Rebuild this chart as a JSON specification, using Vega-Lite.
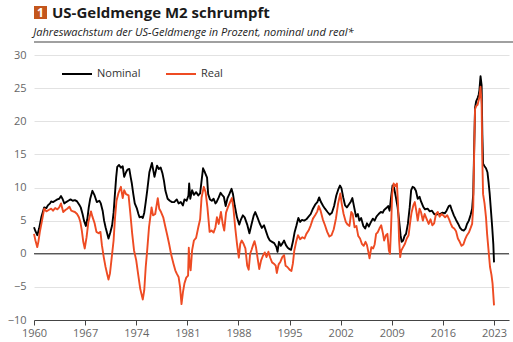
{
  "$schema": "https://vega.github.io/schema/vega-lite/v6.json",
  "padding": {"left": 3, "right": 3, "top": 5, "bottom": 0},
  "config": {"font": "Open Sans", "view": {"stroke": null}},
  "spacing": 6,
  "align": "none",
  "resolve": {"scale": {"color": "independent"}, "legend": {"color": "independent"}},
  "datasets": {
    "nom": [
      {"t":1960.0,"v":4.0},{"t":1960.2,"v":3.4},{"t":1960.45,"v":2.8},{"t":1960.7,"v":3.8},{"t":1961.0,"v":5.5},{"t":1961.4,"v":7.0},{"t":1961.7,"v":6.9},{"t":1961.9,"v":7.3},
      {"t":1962.2,"v":7.6},{"t":1962.35,"v":7.9},{"t":1962.6,"v":7.8},{"t":1962.9,"v":8.0},{"t":1963.2,"v":8.2},{"t":1963.45,"v":8.3},{"t":1963.7,"v":8.7},{"t":1963.9,"v":8.3},
      {"t":1964.15,"v":7.6},{"t":1964.4,"v":7.8},{"t":1964.7,"v":8.0},{"t":1965.0,"v":8.2},{"t":1965.3,"v":8.0},{"t":1965.6,"v":8.1},{"t":1965.9,"v":7.9},{"t":1966.2,"v":7.4},
      {"t":1966.4,"v":7.0},{"t":1966.65,"v":6.0},{"t":1966.85,"v":5.0},{"t":1967.1,"v":4.2},{"t":1967.3,"v":5.2},{"t":1967.5,"v":7.0},{"t":1967.7,"v":8.3},{"t":1968.0,"v":9.5},
      {"t":1968.3,"v":8.8},{"t":1968.6,"v":7.8},{"t":1968.95,"v":8.0},{"t":1969.15,"v":7.6},{"t":1969.4,"v":6.5},{"t":1969.6,"v":5.0},{"t":1969.8,"v":4.0},{"t":1970.2,"v":2.3},
      {"t":1970.45,"v":3.2},{"t":1970.7,"v":4.3},{"t":1970.9,"v":6.2},{"t":1971.05,"v":8.5},{"t":1971.25,"v":11.5},{"t":1971.4,"v":13.1},{"t":1971.65,"v":13.4},{"t":1971.9,"v":13.0},
      {"t":1972.15,"v":13.2},{"t":1972.35,"v":11.6},{"t":1972.6,"v":12.3},{"t":1972.8,"v":12.7},{"t":1973.05,"v":12.8},{"t":1973.25,"v":11.5},{"t":1973.4,"v":10.6},{"t":1973.6,"v":9.0},
      {"t":1973.8,"v":7.6},{"t":1974.1,"v":6.8},{"t":1974.3,"v":6.0},{"t":1974.45,"v":5.5},{"t":1974.7,"v":5.6},{"t":1974.9,"v":5.4},{"t":1975.1,"v":6.2},{"t":1975.3,"v":7.8},
      {"t":1975.5,"v":9.5},{"t":1975.8,"v":12.3},{"t":1976.15,"v":13.7},{"t":1976.35,"v":12.5},{"t":1976.5,"v":11.6},{"t":1976.85,"v":13.3},{"t":1977.1,"v":12.8},{"t":1977.35,"v":13.0},
      {"t":1977.6,"v":12.1},{"t":1977.8,"v":11.0},{"t":1978.0,"v":9.5},{"t":1978.3,"v":8.3},{"t":1978.6,"v":8.0},{"t":1978.9,"v":7.8},{"t":1979.2,"v":7.8},{"t":1979.55,"v":8.2},
      {"t":1979.8,"v":7.6},{"t":1980.1,"v":7.8},{"t":1980.4,"v":7.3},{"t":1980.6,"v":8.2},{"t":1980.9,"v":8.0},{"t":1981.15,"v":8.8},{"t":1981.25,"v":10.6},{"t":1981.4,"v":8.3},
      {"t":1981.65,"v":9.6},{"t":1981.9,"v":8.9},{"t":1982.2,"v":9.3},{"t":1982.5,"v":8.8},{"t":1982.75,"v":9.1},{"t":1983.0,"v":11.5},{"t":1983.15,"v":12.9},{"t":1983.4,"v":12.3},
      {"t":1983.7,"v":11.5},{"t":1983.85,"v":9.0},{"t":1984.1,"v":8.2},{"t":1984.35,"v":8.0},{"t":1984.6,"v":8.3},{"t":1984.85,"v":7.6},{"t":1985.0,"v":7.8},{"t":1985.3,"v":8.5},
      {"t":1985.55,"v":9.2},{"t":1985.75,"v":8.9},{"t":1986.0,"v":8.6},{"t":1986.25,"v":7.2},{"t":1986.5,"v":8.4},{"t":1986.75,"v":9.0},{"t":1987.05,"v":9.8},{"t":1987.25,"v":9.0},
      {"t":1987.5,"v":7.2},{"t":1987.8,"v":5.5},{"t":1988.1,"v":4.4},{"t":1988.35,"v":5.2},{"t":1988.6,"v":5.8},{"t":1988.85,"v":5.5},{"t":1989.2,"v":4.4},{"t":1989.5,"v":3.1},
      {"t":1989.8,"v":4.5},{"t":1990.1,"v":5.8},{"t":1990.3,"v":6.3},{"t":1990.6,"v":5.5},{"t":1990.9,"v":4.6},{"t":1991.2,"v":3.9},{"t":1991.5,"v":4.3},{"t":1991.8,"v":3.3},
      {"t":1992.05,"v":2.5},{"t":1992.3,"v":2.0},{"t":1992.6,"v":1.8},{"t":1992.9,"v":1.6},{"t":1993.2,"v":1.0},{"t":1993.35,"v":0.3},{"t":1993.55,"v":1.8},{"t":1993.8,"v":1.2},
      {"t":1994.05,"v":1.6},{"t":1994.25,"v":2.0},{"t":1994.5,"v":1.3},{"t":1994.75,"v":0.9},{"t":1995.0,"v":0.7},{"t":1995.2,"v":0.6},{"t":1995.45,"v":1.8},{"t":1995.7,"v":3.3},
      {"t":1995.95,"v":4.3},{"t":1996.2,"v":5.4},{"t":1996.45,"v":4.8},{"t":1996.7,"v":5.1},{"t":1997.0,"v":5.0},{"t":1997.3,"v":5.2},{"t":1997.6,"v":5.6},{"t":1997.9,"v":6.0},
      {"t":1998.2,"v":6.8},{"t":1998.5,"v":7.4},{"t":1998.8,"v":7.8},{"t":1999.05,"v":8.5},{"t":1999.3,"v":7.8},{"t":1999.6,"v":7.2},{"t":1999.85,"v":6.8},{"t":2000.2,"v":6.3},
      {"t":2000.5,"v":5.9},{"t":2000.8,"v":6.2},{"t":2001.1,"v":7.2},{"t":2001.4,"v":8.8},{"t":2001.7,"v":9.8},{"t":2001.9,"v":10.3},{"t":2002.1,"v":9.9},{"t":2002.35,"v":8.5},
      {"t":2002.6,"v":7.3},{"t":2002.85,"v":7.0},{"t":2003.1,"v":7.4},{"t":2003.4,"v":7.9},{"t":2003.6,"v":8.4},{"t":2003.85,"v":7.0},{"t":2004.1,"v":5.6},{"t":2004.35,"v":6.0},
      {"t":2004.55,"v":5.0},{"t":2004.8,"v":5.4},{"t":2005.1,"v":4.2},{"t":2005.35,"v":3.8},{"t":2005.6,"v":4.6},{"t":2005.85,"v":4.1},{"t":2006.15,"v":4.8},{"t":2006.4,"v":5.3},
      {"t":2006.65,"v":5.0},{"t":2006.9,"v":5.6},{"t":2007.2,"v":6.0},{"t":2007.5,"v":6.3},{"t":2007.75,"v":6.2},{"t":2007.95,"v":6.6},{"t":2008.25,"v":6.9},{"t":2008.5,"v":7.2},
      {"t":2008.7,"v":6.5},{"t":2008.9,"v":8.5},{"t":2009.1,"v":10.3},{"t":2009.3,"v":10.0},{"t":2009.55,"v":8.6},{"t":2009.8,"v":7.0},{"t":2010.0,"v":5.0},{"t":2010.2,"v":2.8},
      {"t":2010.35,"v":1.8},{"t":2010.55,"v":2.0},{"t":2010.75,"v":2.7},{"t":2010.95,"v":3.0},{"t":2011.2,"v":4.5},{"t":2011.45,"v":7.0},{"t":2011.65,"v":9.6},{"t":2011.85,"v":10.1},
      {"t":2012.05,"v":10.0},{"t":2012.3,"v":9.5},{"t":2012.55,"v":8.3},{"t":2012.8,"v":8.6},{"t":2013.0,"v":7.9},{"t":2013.3,"v":7.1},{"t":2013.55,"v":6.7},{"t":2013.9,"v":6.8},
      {"t":2014.2,"v":6.4},{"t":2014.5,"v":6.5},{"t":2014.8,"v":6.0},{"t":2015.1,"v":5.9},{"t":2015.35,"v":6.0},{"t":2015.6,"v":6.0},{"t":2015.95,"v":6.2},{"t":2016.25,"v":6.1},
      {"t":2016.5,"v":6.5},{"t":2016.8,"v":7.2},{"t":2017.0,"v":7.3},{"t":2017.25,"v":6.5},{"t":2017.5,"v":5.8},{"t":2017.8,"v":5.1},{"t":2018.1,"v":4.5},{"t":2018.35,"v":3.9},
      {"t":2018.6,"v":3.6},{"t":2018.85,"v":3.5},{"t":2019.1,"v":3.8},{"t":2019.3,"v":4.5},{"t":2019.55,"v":5.0},{"t":2019.8,"v":5.9},{"t":2020.0,"v":6.8},{"t":2020.15,"v":9.0},
      {"t":2020.3,"v":17.0},{"t":2020.4,"v":22.0},{"t":2020.55,"v":23.0},{"t":2020.75,"v":23.5},{"t":2020.9,"v":24.0},{"t":2021.0,"v":24.7},{"t":2021.15,"v":26.8},{"t":2021.3,"v":25.4},
      {"t":2021.4,"v":18.0},{"t":2021.5,"v":13.6},{"t":2021.7,"v":13.2},{"t":2021.9,"v":12.9},{"t":2022.1,"v":12.3},{"t":2022.25,"v":10.8},{"t":2022.4,"v":9.1},{"t":2022.6,"v":6.2},
      {"t":2022.75,"v":4.0},{"t":2022.9,"v":1.5},{"t":2023.0,"v":-1.3}
    ],
    "real": [
      {"t":1960.0,"v":3.0},{"t":1960.2,"v":2.0},{"t":1960.45,"v":1.0},{"t":1960.6,"v":1.8},{"t":1960.8,"v":3.3},{"t":1961.1,"v":5.0},{"t":1961.4,"v":6.8},{"t":1961.7,"v":6.4},
      {"t":1962.0,"v":6.6},{"t":1962.35,"v":6.8},{"t":1962.6,"v":6.5},{"t":1962.9,"v":6.9},{"t":1963.2,"v":6.7},{"t":1963.45,"v":7.0},{"t":1963.7,"v":7.6},{"t":1964.0,"v":6.3},
      {"t":1964.3,"v":6.6},{"t":1964.55,"v":6.8},{"t":1964.85,"v":7.1},{"t":1965.1,"v":6.5},{"t":1965.35,"v":6.4},{"t":1965.6,"v":6.3},{"t":1965.9,"v":6.0},{"t":1966.15,"v":5.5},
      {"t":1966.35,"v":4.8},{"t":1966.55,"v":3.5},{"t":1966.75,"v":1.8},{"t":1966.95,"v":0.8},{"t":1967.2,"v":2.5},{"t":1967.45,"v":4.8},{"t":1967.8,"v":6.4},{"t":1968.0,"v":5.6},
      {"t":1968.3,"v":4.6},{"t":1968.55,"v":3.3},{"t":1968.85,"v":3.1},{"t":1969.1,"v":3.3},{"t":1969.3,"v":1.3},{"t":1969.55,"v":-0.5},{"t":1969.8,"v":-2.0},{"t":1970.05,"v":-3.2},
      {"t":1970.2,"v":-3.9},{"t":1970.4,"v":-3.0},{"t":1970.6,"v":-1.0},{"t":1970.9,"v":2.0},{"t":1971.1,"v":5.5},{"t":1971.3,"v":8.0},{"t":1971.55,"v":9.1},{"t":1971.9,"v":10.1},
      {"t":1972.15,"v":8.4},{"t":1972.35,"v":9.6},{"t":1972.6,"v":9.0},{"t":1972.95,"v":8.8},{"t":1973.2,"v":6.0},{"t":1973.45,"v":3.0},{"t":1973.7,"v":0.5},{"t":1974.0,"v":-1.0},
      {"t":1974.25,"v":-3.0},{"t":1974.55,"v":-5.3},{"t":1974.9,"v":-6.9},{"t":1975.1,"v":-5.5},{"t":1975.3,"v":-2.0},{"t":1975.5,"v":0.5},{"t":1975.75,"v":4.0},{"t":1976.1,"v":7.0},
      {"t":1976.3,"v":5.8},{"t":1976.6,"v":6.0},{"t":1976.95,"v":8.4},{"t":1977.15,"v":6.8},{"t":1977.4,"v":6.3},{"t":1977.7,"v":5.5},{"t":1978.0,"v":4.0},{"t":1978.25,"v":2.8},
      {"t":1978.5,"v":1.5},{"t":1978.8,"v":-0.2},{"t":1979.1,"v":-1.5},{"t":1979.35,"v":-2.5},{"t":1979.55,"v":-3.0},{"t":1979.8,"v":-3.5},{"t":1980.0,"v":-5.0},{"t":1980.2,"v":-7.6},
      {"t":1980.4,"v":-5.8},{"t":1980.6,"v":-4.5},{"t":1980.85,"v":-3.6},{"t":1981.1,"v":-3.3},{"t":1981.2,"v":0.9},{"t":1981.3,"v":-1.3},{"t":1981.45,"v":-2.5},{"t":1981.65,"v":0.5},
      {"t":1981.9,"v":2.0},{"t":1982.2,"v":2.4},{"t":1982.5,"v":4.0},{"t":1982.75,"v":5.2},{"t":1982.95,"v":8.5},{"t":1983.25,"v":10.1},{"t":1983.5,"v":9.3},{"t":1983.75,"v":7.0},
      {"t":1984.05,"v":3.3},{"t":1984.3,"v":3.5},{"t":1984.6,"v":3.2},{"t":1984.85,"v":4.0},{"t":1985.05,"v":5.5},{"t":1985.3,"v":4.5},{"t":1985.6,"v":6.3},{"t":1985.85,"v":4.5},
      {"t":1986.05,"v":3.5},{"t":1986.3,"v":6.2},{"t":1986.55,"v":7.0},{"t":1986.85,"v":7.8},{"t":1987.1,"v":8.4},{"t":1987.3,"v":7.0},{"t":1987.55,"v":4.0},{"t":1987.8,"v":1.5},
      {"t":1988.05,"v":-0.6},{"t":1988.25,"v":1.5},{"t":1988.45,"v":2.0},{"t":1988.7,"v":1.5},{"t":1988.95,"v":0.8},{"t":1989.2,"v":-1.8},{"t":1989.4,"v":-2.4},{"t":1989.6,"v":0.0},
      {"t":1989.8,"v":0.6},{"t":1990.0,"v":1.3},{"t":1990.2,"v":1.9},{"t":1990.4,"v":1.0},{"t":1990.6,"v":-0.5},{"t":1990.85,"v":-2.3},{"t":1991.1,"v":-1.0},{"t":1991.35,"v":-0.3},
      {"t":1991.6,"v":0.2},{"t":1991.85,"v":-0.5},{"t":1992.1,"v":0.3},{"t":1992.35,"v":-0.6},{"t":1992.6,"v":-1.3},{"t":1992.85,"v":-1.5},{"t":1993.1,"v":-1.8},{"t":1993.25,"v":-2.9},
      {"t":1993.5,"v":-1.6},{"t":1993.75,"v":-1.2},{"t":1994.0,"v":-0.5},{"t":1994.25,"v":-0.2},{"t":1994.45,"v":-1.8},{"t":1994.7,"v":-2.0},{"t":1995.0,"v":-2.4},{"t":1995.25,"v":-2.6},
      {"t":1995.45,"v":-1.5},{"t":1995.65,"v":0.5},{"t":1995.9,"v":1.8},{"t":1996.15,"v":2.8},{"t":1996.45,"v":2.2},{"t":1996.75,"v":2.5},{"t":1997.05,"v":2.3},{"t":1997.3,"v":3.0},
      {"t":1997.6,"v":3.5},{"t":1997.9,"v":4.3},{"t":1998.2,"v":5.3},{"t":1998.5,"v":5.8},{"t":1998.8,"v":6.4},{"t":1999.0,"v":7.2},{"t":1999.25,"v":6.5},{"t":1999.55,"v":5.2},
      {"t":1999.85,"v":4.3},{"t":2000.15,"v":3.3},{"t":2000.45,"v":2.6},{"t":2000.75,"v":2.8},{"t":2001.05,"v":3.7},{"t":2001.35,"v":5.3},{"t":2001.65,"v":7.6},{"t":2001.95,"v":9.1},
      {"t":2002.15,"v":7.5},{"t":2002.4,"v":6.0},{"t":2002.7,"v":4.8},{"t":2002.95,"v":4.4},{"t":2003.2,"v":4.2},{"t":2003.45,"v":6.3},{"t":2003.65,"v":6.0},{"t":2003.9,"v":4.0},
      {"t":2004.15,"v":4.2},{"t":2004.4,"v":2.7},{"t":2004.65,"v":2.3},{"t":2004.9,"v":1.5},{"t":2005.15,"v":1.2},{"t":2005.4,"v":1.8},{"t":2005.6,"v":1.3},{"t":2005.8,"v":0.2},
      {"t":2005.95,"v":-0.7},{"t":2006.2,"v":1.0},{"t":2006.45,"v":0.8},{"t":2006.65,"v":1.4},{"t":2006.85,"v":3.0},{"t":2007.05,"v":3.2},{"t":2007.3,"v":3.8},{"t":2007.55,"v":4.3},
      {"t":2007.8,"v":3.0},{"t":2007.95,"v":2.0},{"t":2008.2,"v":2.8},{"t":2008.4,"v":3.0},{"t":2008.6,"v":0.5},{"t":2008.75,"v":0.0},{"t":2008.9,"v":4.0},{"t":2009.05,"v":9.0},
      {"t":2009.25,"v":10.6},{"t":2009.5,"v":10.2},{"t":2009.7,"v":10.6},{"t":2009.85,"v":7.5},{"t":2010.0,"v":2.0},{"t":2010.15,"v":-0.5},{"t":2010.3,"v":0.5},{"t":2010.55,"v":1.0},
      {"t":2010.8,"v":1.5},{"t":2011.05,"v":2.3},{"t":2011.3,"v":2.8},{"t":2011.5,"v":4.6},{"t":2011.7,"v":6.2},{"t":2011.95,"v":7.3},{"t":2012.15,"v":7.8},{"t":2012.35,"v":6.5},
      {"t":2012.55,"v":5.0},{"t":2012.8,"v":6.8},{"t":2013.0,"v":6.3},{"t":2013.25,"v":5.0},{"t":2013.5,"v":6.0},{"t":2013.75,"v":5.3},{"t":2014.05,"v":4.5},{"t":2014.3,"v":5.2},
      {"t":2014.55,"v":4.3},{"t":2014.8,"v":4.6},{"t":2015.05,"v":6.0},{"t":2015.3,"v":6.3},{"t":2015.55,"v":5.6},{"t":2015.8,"v":6.0},{"t":2016.05,"v":5.8},{"t":2016.3,"v":5.5},
      {"t":2016.6,"v":5.8},{"t":2016.85,"v":5.2},{"t":2017.05,"v":4.6},{"t":2017.3,"v":4.0},{"t":2017.55,"v":3.8},{"t":2017.8,"v":3.4},{"t":2018.05,"v":2.3},{"t":2018.3,"v":1.8},
      {"t":2018.55,"v":1.2},{"t":2018.8,"v":1.4},{"t":2019.05,"v":2.2},{"t":2019.3,"v":2.8},{"t":2019.55,"v":3.2},{"t":2019.8,"v":3.9},{"t":2020.0,"v":4.5},{"t":2020.15,"v":7.0},
      {"t":2020.3,"v":16.5},{"t":2020.4,"v":21.8},{"t":2020.55,"v":22.3},{"t":2020.75,"v":22.5},{"t":2020.9,"v":23.2},{"t":2021.0,"v":23.6},{"t":2021.15,"v":25.2},{"t":2021.3,"v":22.6},
      {"t":2021.4,"v":14.0},{"t":2021.5,"v":9.0},{"t":2021.7,"v":7.6},{"t":2021.9,"v":5.5},{"t":2022.05,"v":3.0},{"t":2022.25,"v":0.5},{"t":2022.45,"v":-2.0},{"t":2022.65,"v":-3.2},
      {"t":2022.8,"v":-4.5},{"t":2022.95,"v":-7.0},{"t":2023.0,"v":-7.8}
    ]
  },
  "vconcat": [
    {
      "spacing": 5,
      "hconcat": [
        {
          "width": 13,
          "height": 13,
          "data": {"values": [{"n": "1"}]},
          "layer": [
            {
              "mark": {"type": "rect", "color": "#c4561c"},
              "encoding": {
                "x": {"datum": 0, "type": "quantitative", "scale": {"domain": [0, 1]}, "axis": null},
                "x2": {"datum": 1},
                "y": {"datum": 0, "type": "quantitative", "scale": {"domain": [0, 1]}, "axis": null},
                "y2": {"datum": 1}
              }
            },
            {
              "mark": {"type": "text", "color": "#ffffff", "fontWeight": "bold", "fontSize": 12, "align": "center", "baseline": "middle"},
              "encoding": {
                "x": {"datum": 0.5, "type": "quantitative"},
                "y": {"datum": 0.5, "type": "quantitative"},
                "text": {"field": "n"}
              }
            }
          ]
        },
        {
          "width": 260,
          "height": 13,
          "data": {"values": [{"s": "US-Geldmenge M2 schrumpft"}]},
          "mark": {"type": "text", "color": "#1a1a1a", "fontWeight": "bold", "fontSize": 15, "align": "left", "baseline": "middle"},
          "encoding": {
            "x": {"datum": 0, "type": "quantitative", "scale": {"domain": [0, 1]}, "axis": null},
            "y": {"datum": 0.5, "type": "quantitative", "scale": {"domain": [0, 1]}, "axis": null},
            "text": {"field": "s"}
          }
        }
      ]
    },
    {
      "width": 507,
      "height": 1,
      "data": {"values": [{"k": 1}]},
      "title": {
        "text": "Jahreswachstum der US-Geldmenge in Prozent, nominal und real*",
        "anchor": "start",
        "fontSize": 11,
        "fontStyle": "italic",
        "fontWeight": "normal",
        "color": "#222222",
        "offset": 3
      },
      "mark": {"type": "rule", "color": "#808080", "strokeWidth": 1.3},
      "encoding": {
        "y": {"datum": 1, "type": "quantitative", "scale": {"domain": [0, 1]}, "axis": null}
      }
    },
    {
      "width": 475,
      "height": 265,
      "layer": [
        {
          "data": {"values": [{"z": 0}]},
          "mark": {"type": "rule", "color": "#222222", "strokeWidth": 1},
          "encoding": {
            "y": {
              "datum": 0, "type": "quantitative",
              "scale": {"domain": [-10, 30], "nice": false},
              "axis": {
                "title": null, "values": [-10, -5, 0, 5, 10, 15, 20, 25, 30], "tickCount": 9, "domain": false, "ticks": false,
                "grid": true, "gridColor": "#e2e2e2", "labelColor": "#666666", "labelFontSize": 11, "labelPadding": 8,
                "labelOverlap": false, "labelBound": false, "minExtent": 31, "maxExtent": 31
              }
            }
          }
        },
        {
          "data": {"name": "nom"},
          "mark": {"type": "line", "strokeWidth": 1.9, "strokeJoin": "round"},
          "encoding": {
            "x": {
              "field": "t", "type": "quantitative",
              "scale": {"domain": [1960, 2025.05], "nice": false, "zero": false},
              "axis": {
                "title": null, "values": [1960, 1967, 1974, 1981, 1988, 1995, 2002, 2009, 2016, 2023],
                "format": "d", "grid": false, "labelFlush": false, "tickSize": 5, "tickColor": "#444444",
                "domainColor": "#444444", "labelColor": "#666666", "labelFontSize": 11, "labelPadding": 2
              }
            },
            "y": {
              "field": "v", "type": "quantitative",
              "axis": {
                "title": null, "values": [-10, -5, 0, 5, 10, 15, 20, 25, 30], "tickCount": 9, "domain": false, "ticks": false,
                "grid": true, "gridColor": "#e2e2e2", "labelColor": "#666666", "labelFontSize": 11, "labelPadding": 8,
                "labelOverlap": false, "labelBound": false, "minExtent": 31, "maxExtent": 31
              }
            },
            "color": {
              "datum": "Nominal",
              "scale": {"domain": ["Nominal", "Real"], "range": ["#000000", "#ee4b23"]},
              "legend": {
                "title": null, "orient": "none", "legendX": 27, "legendY": 3, "direction": "horizontal",
                "symbolType": "stroke", "symbolSize": 900, "symbolStrokeWidth": 2, "labelFontSize": 11,
                "labelColor": "#333333", "columnPadding": 21, "labelOffset": 4, "padding": 0
              }
            }
          }
        },
        {
          "data": {"name": "real"},
          "mark": {"type": "line", "strokeWidth": 1.9, "strokeJoin": "round"},
          "encoding": {
            "x": {"field": "t", "type": "quantitative"},
            "y": {"field": "v", "type": "quantitative"},
            "color": {"datum": "Real"}
          }
        }
      ]
    }
  ]
}
